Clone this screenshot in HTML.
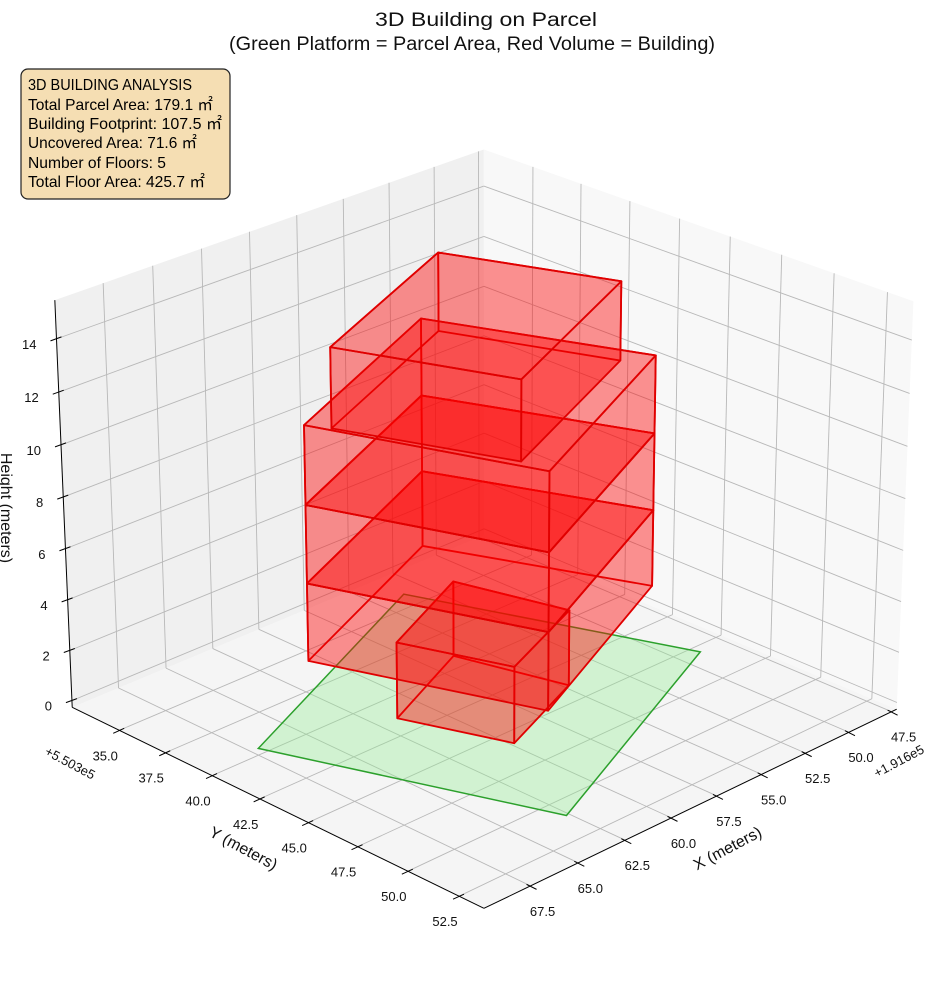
<!DOCTYPE html>
<html><head><meta charset="utf-8"><style>
html,body{margin:0;padding:0;background:#fff;}
svg{display:block;font-family:"Liberation Sans","Noto Sans CJK SC",sans-serif;}
</style></head><body>
<svg id="chart" width="944" height="992" viewBox="0 0 944 992">
<g id="title">
<text x="375" y="26" font-size="19" textLength="222" lengthAdjust="spacingAndGlyphs" fill="#111">3D Building on Parcel</text>
<text x="229" y="50" font-size="19" textLength="486" lengthAdjust="spacingAndGlyphs" fill="#111">(Green Platform = Parcel Area, Red Volume = Building)</text>
</g>
<g id="panes"></g><g id="grid"></g><g id="axes"></g><g id="marks"></g>
<g id="info-box">
<rect x="21" y="69" width="209" height="130" rx="7" fill="#f5deb3" stroke="#222" stroke-width="1.2"/>
<text x="28" y="90" font-size="16" textLength="164" lengthAdjust="spacingAndGlyphs">3D BUILDING ANALYSIS</text>
<text x="28" y="110" font-size="16" textLength="185" lengthAdjust="spacingAndGlyphs">Total Parcel Area: 179.1 ㎡</text>
<text x="28" y="129" font-size="16" textLength="194" lengthAdjust="spacingAndGlyphs">Building Footprint: 107.5 ㎡</text>
<text x="28" y="148" font-size="16" textLength="169" lengthAdjust="spacingAndGlyphs">Uncovered Area: 71.6 ㎡</text>
<text x="28" y="168" font-size="16" textLength="138" lengthAdjust="spacingAndGlyphs">Number of Floors: 5</text>
<text x="28" y="187" font-size="16" textLength="177" lengthAdjust="spacingAndGlyphs">Total Floor Area: 425.7 ㎡</text>
</g>
</svg>
<script>
const xTicks = [47.5, 50, 52.5, 55, 57.5, 60, 62.5, 65, 67.5];
const xTickLabels = ["47.5","50.0","52.5","55.0","57.5","60.0","62.5","65.0","67.5"];
const yTicks = [35, 37.5, 40, 42.5, 45, 47.5, 50, 52.5];
const yTickLabels = ["35.0","37.5","40.0","42.5","45.0","47.5","50.0","52.5"];
const zTicks = [0, 2, 4, 6, 8, 10, 12, 14];
const zTickLabels = ["0","2","4","6","8","10","12","14"];
const xLim = [47.2, 69.9];
const yLim = [32.4, 53.7];
const zLim = [-0.27, 15.44];
const parcelX = [63.05, 67.5, 54.0, 49.35];
const parcelY = [51.35, 40.0, 34.45, 45.8];
const footprintX = [[61.95, 60.24, 55.19, 56.56],[65.45, 61.97, 51.3, 55.1],[64.93, 62.08, 52.63, 55.5]];
const footprintY = [[41.79, 46.17, 44.3, 39.58],[40.65, 49.44, 45.0, 36.56],[41.53, 48.18, 44.43, 37.86]];
const floorBase = [0, 3, 6, 9, 12];
const floorTop = [3, 6, 9, 12, 15];
const floorFootprint = [0, 1, 1, 1, 2];

const calib = [[1,0,0,72,705],[1,1,0,484,910],[0,1,0,897,707],[0,0,0,484,538],[1,0,1,55,301],[0,0,1,484,148],[0,1,1,913,302]];
function solveLS(A,b){const n=A[0].length;const M=[];for(let i=0;i<n;i++){M.push(new Array(n+1).fill(0));}
for(let r=0;r<A.length;r++){for(let i=0;i<n;i++){for(let j=0;j<n;j++)M[i][j]+=A[r][i]*A[r][j];M[i][n]+=A[r][i]*b[r];}}
for(let c=0;c<n;c++){let p=c;for(let r=c+1;r<n;r++)if(Math.abs(M[r][c])>Math.abs(M[p][c]))p=r;[M[c],M[p]]=[M[p],M[c]];
for(let r=0;r<n;r++){if(r===c)continue;const f=M[r][c]/M[c][c];for(let k=c;k<=n;k++)M[r][k]-=f*M[c][k];}}
return M.map((row,i)=>row[n]/row[i]);}
const A=[],B=[];
calib.forEach(([U,V,W,sx,sy])=>{A.push([U,V,W,1,0,0,0,0,-sx*U,-sx*V,-sx*W]);B.push(sx);A.push([0,0,0,0,U,V,W,1,-sy*U,-sy*V,-sy*W]);B.push(sy);});
const P=solveLS(A,B);
function norm(x,y,z){return [(x-xLim[0])/(xLim[1]-xLim[0]),(y-yLim[0])/(yLim[1]-yLim[0]),(z-zLim[0])/(zLim[1]-zLim[0])];}
function projN(U,V,W){const w=P[8]*U+P[9]*V+P[10]*W+1;return [(P[0]*U+P[1]*V+P[2]*W+P[3])/w,(P[4]*U+P[5]*V+P[6]*W+P[7])/w,w];}
function proj(x,y,z){const n=norm(x,y,z);return projN(n[0],n[1],n[2]);}
const depthSign = projN(0,0,0)[2] > projN(1,1,0)[2] ? 1 : -1;
const NS="http://www.w3.org/2000/svg";
function mk(tag,attrs,parent){const e=document.createElementNS(NS,tag);for(const k in attrs)e.setAttribute(k,attrs[k]);parent.appendChild(e);return e;}
function pts(arr){return arr.map(p=>p[0].toFixed(2)+","+p[1].toFixed(2)).join(" ");}
const [x0,x1]=xLim,[y0,y1]=yLim,[z0,z1]=zLim;
const panes=document.getElementById('panes'),grid=document.getElementById('grid'),axes=document.getElementById('axes'),marks=document.getElementById('marks');

let e;
e=mk('polygon',{points:pts([proj(x0,y0,z0),proj(x1,y0,z0),proj(x1,y1,z0),proj(x0,y1,z0)]),fill:'#f5f5f5'},panes);


e=mk('polygon',{points:pts([proj(x0,y0,z0),proj(x1,y0,z0),proj(x1,y0,z1),proj(x0,y0,z1)]),fill:'#f0f0f0'},panes);


e=mk('polygon',{points:pts([proj(x0,y0,z0),proj(x0,y1,z0),proj(x0,y1,z1),proj(x0,y0,z1)]),fill:'#f8f8f8'},panes);



function gl(a,b,name){const l=mk('line',{x1:a[0],y1:a[1],x2:b[0],y2:b[1],stroke:'#b8b8b8','stroke-width':0.9},grid);

}
xTicks.forEach(t=>{gl(proj(t,y0,z0),proj(t,y1,z0),'x-gridline');gl(proj(t,y0,z0),proj(t,y0,z1),'x-gridline');});
yTicks.forEach(t=>{gl(proj(x0,t,z0),proj(x1,t,z0),'y-gridline');gl(proj(x0,t,z0),proj(x0,t,z1),'y-gridline');});
zTicks.forEach(t=>{gl(proj(x0,y0,t),proj(x1,y0,t),'z-gridline');gl(proj(x0,y0,t),proj(x0,y1,t),'z-gridline');});

function al(a,b,name){const l=mk('line',{x1:a[0],y1:a[1],x2:b[0],y2:b[1],stroke:'#000','stroke-width':1},axes);

}
al(proj(x1,y0,z0),proj(x1,y1,z0),'y-axis-line');
al(proj(x1,y1,z0),proj(x0,y1,z0),'x-axis-line');
al(proj(x1,y0,z0),proj(x1,y0,z1),'z-axis-line');
function txt(x,y,s,size,anchor,rot,name){const t=mk('text',{x:x,y:y,'font-size':size,'text-anchor':anchor,fill:'#111'},axes);
if(rot)t.setAttribute('transform','rotate('+rot+' '+x+' '+y+')');t.textContent=s;

return t;}
yTicks.forEach((t,i)=>{const p=proj(x1,t,z0);al([p[0]-6,p[1]+3],[p[0]+5,p[1]-2],'y-tick');txt(p[0]-14,p[1]+30,yTickLabels[i],13,'middle',0,'y-tick-label');});
xTicks.forEach((t,i)=>{const p=proj(t,y1,z0);al([p[0]-4,p[1]-1.5],[p[0]+6,p[1]+3.5],'x-tick');txt(p[0]+12,p[1]+30,xTickLabels[i],13,'middle',0,'x-tick-label');});
zTicks.forEach((t,i)=>{const p=proj(x1,y0,t);al([p[0]-6,p[1]+2],[p[0]+5,p[1]-2],'z-tick');txt(p[0]-20,p[1]+10,zTickLabels[i],13,'end',0,'z-tick-label');});
txt(241,853,'Y (meters)',16,'middle',28,'y-axis-title');
txt(730,853,'X (meters)',16,'middle',-28,'x-axis-title');
txt(1,508,'Height (meters)',16,'middle',90,'z-axis-title');
txt(68,767,'+5.503e5',13,'middle',28,'y-offset-text');
txt(901,765,'+1.916e5',13,'middle',-28,'x-offset-text');

const pp=parcelX.map((x,i)=>proj(x,parcelY[i],0));
e=mk('polygon',{points:pts(pp),fill:'rgba(144,238,144,0.35)',stroke:'#2ca02c','stroke-width':1.5},marks);



const faces=[];
floorBase.forEach((zb,f)=>{const fi=floorFootprint[f];const fx=footprintX[fi],fy=footprintY[fi];const zt=floorTop[f];
const bot=fx.map((x,i)=>proj(x,fy[i],zb)),top=fx.map((x,i)=>proj(x,fy[i],zt));
faces.push({p:bot,f:f,kind:'bottom'});faces.push({p:top,f:f,kind:'top'});
for(let i=0;i<4;i++){const j=(i+1)%4;faces.push({p:[bot[i],bot[j],top[j],top[i]],f:f,kind:'side'});}});
faces.forEach(fc=>{fc.d=depthSign*fc.p.reduce((s,q)=>s+q[2],0)/fc.p.length;});
faces.sort((a,b)=>b.d-a.d);
faces.forEach(fc=>{const g=mk('polygon',{points:pts(fc.p),fill:'rgba(255,0,0,0.24)',stroke:'#e00000','stroke-width':fc.kind==='bottom'?1:1.8,'stroke-linejoin':'round'},marks);

});
</script>
</body></html>
